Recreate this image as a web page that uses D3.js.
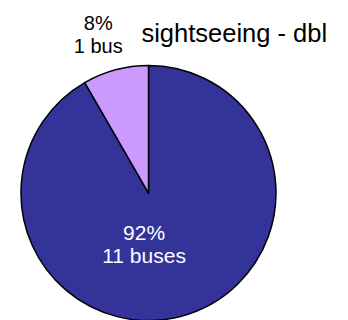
<!DOCTYPE html>
<html>
<head>
<meta charset="utf-8">
<script src="https://cdn.jsdelivr.net/npm/d3@7"></script>
<style>
  html, body { margin: 0; padding: 0; background: #fff; }
  svg { display: block; font-family: "Liberation Sans", Arial, sans-serif; }
</style>
</head>
<body>
<svg id="chart" width="348" height="320"></svg>
<script>
const title = "sightseeing - dbl";
const categories = ["11 buses", "1 bus"];
const values = [11, 1];
const colors = ["#333399", "#CC99FF"];
const labelColors = ["#FFFFFF", "#000000"];

const W = 348, H = 320;
const cx = 148.5, cy = 193, R = 127.5;
const svg = d3.select("#chart");

const total = d3.sum(values);
const pie = d3.pie().sort(null).value(d => d)(values);
const arc = d3.arc().innerRadius(0).outerRadius(R);

const g = svg.append("g").attr("transform", `translate(${cx},${cy})`);
g.selectAll("path.slice")
  .data(pie)
  .join("path")
  .attr("class", "slice")
  .attr("d", arc)
  .attr("fill", (d, i) => colors[i])
  .attr("stroke", "#000")
  .attr("stroke-width", 1.5)
  .attr("stroke-linejoin", "round");

// label placement: inner label uses a small-radius arc, outer label an outside arc
const labelRadii = [51, 167];
const labelAngleShift = [20 * Math.PI / 180, -2.5 * Math.PI / 180];
pie.forEach((d, i) => {
  const mid = (d.startAngle + d.endAngle) / 2 + labelAngleShift[i];
  const r = labelRadii[i];
  const x = r * Math.sin(mid), y = -r * Math.cos(mid);
  const pct = Math.round(d.value / total * 100) + "%";
  const t = g.append("text")
    .attr("text-anchor", "middle")
    .attr("fill", labelColors[i])
    .attr("font-size", i === 0 ? 21 : 20)
    .attr("transform", `translate(${x},${y})`);
  t.append("tspan").attr("x", 0).attr("y", -4).text(pct);
  t.append("tspan").attr("x", 0).attr("y", 19.5).text(categories[i]);
});

svg.append("text")
  .attr("x", 234.3)
  .attr("y", 41.7)
  .attr("text-anchor", "middle")
  .attr("font-size", 25.5)
  .attr("fill", "#000")
  .text(title);
</script>
</body>
</html>
